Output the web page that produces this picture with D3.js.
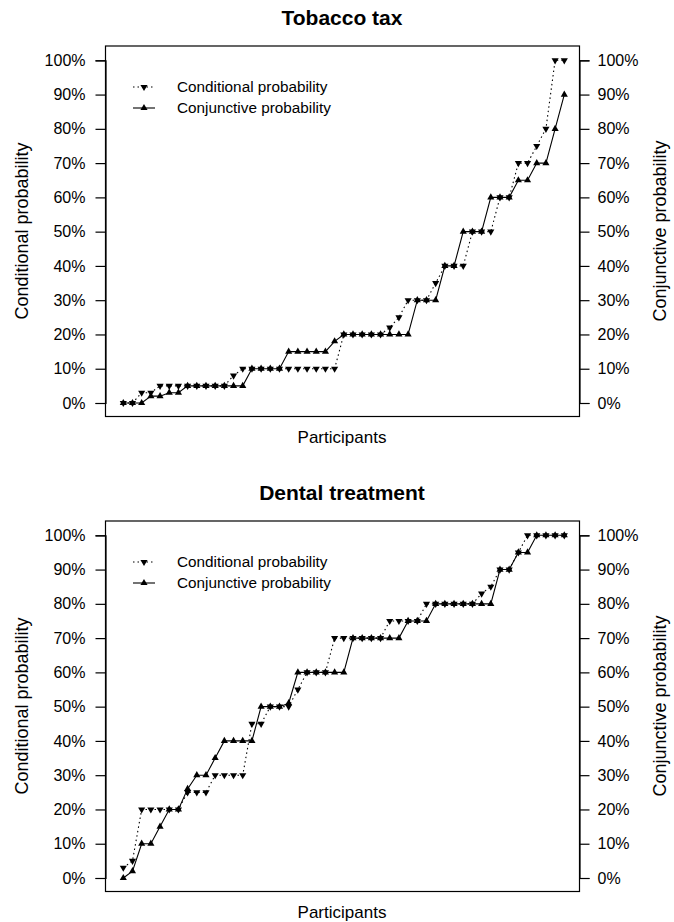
<!DOCTYPE html>
<html>
<head>
<meta charset="utf-8">
<script src="https://cdn.jsdelivr.net/npm/d3@7"></script>
<style>
body { margin: 0; background: #fff; }
text { font-family: "Liberation Sans", Arial, sans-serif; fill: #000; }
</style>
</head>
<body>
<svg id="myGraph" width="674" height="922"></svg>
<script>
// グラフのデータ（参加者ごとの確率 %）
var tobaccoConditional = [0,0,3,3,5,5,5,5,5,5,5,5,8,10,10,10,10,10,10,10,10,10,10,10,20,20,20,20,20,22,25,30,30,30,35,40,40,40,50,50,50,60,60,70,70,75,80,100,100];
var tobaccoConjunctive = [0,0,0,2,2,3,3,5,5,5,5,5,5,5,10,10,10,10,15,15,15,15,15,18,20,20,20,20,20,20,20,20,30,30,30,40,40,50,50,50,60,60,60,65,65,70,70,80,90];
var dentalConditional = [3,5,20,20,20,20,20,25,25,25,30,30,30,30,45,45,50,50,50,55,60,60,60,70,70,70,70,70,70,75,75,75,75,80,80,80,80,80,80,83,85,90,90,95,100,100,100,100,100];
var dentalConjunctive = [0,2,10,10,15,20,20,26,30,30,35,40,40,40,40,50,50,50,51,60,60,60,60,60,60,70,70,70,70,70,70,75,75,75,80,80,80,80,80,80,80,90,90,95,95,100,100,100,100];
var yTicks = [0,10,20,30,40,50,60,70,80,90,100];
var legendLabels = ["Conditional probability", "Conjunctive probability"];

var svg = d3.select("#myGraph");

// パネルの配置（上: タバコ税、下: 歯科治療）
var panels = [
	{ title: "Tobacco tax", cond: tobaccoConditional, conj: tobaccoConjunctive, top: 0 },
	{ title: "Dental treatment", cond: dentalConditional, conj: dentalConjunctive, top: 475 }
];

var boxLeft = 105.5, boxRight = 579.5;

panels.forEach(function(p){
	var g = svg.append("g").attr("transform", "translate(0," + p.top + ")");
	var n = p.cond.length;
	// X軸は参加者の順番
	var x = d3.scaleLinear().domain([0, n - 1]).range([123.3, 564.3]);
	var y = d3.scaleLinear().domain([0, 100]).range([403, 60.3]);

	// 枠
	g.append("rect")
		.attr("x", boxLeft).attr("y", 46)
		.attr("width", boxRight - boxLeft).attr("height", 416.5 - 46)
		.attr("fill", "none").attr("stroke", "#000").attr("stroke-width", 1.2);

	// 左右の目盛り
	var fmt = function(d){ return d + "%"; };
	var left = g.append("g")
		.attr("transform", "translate(" + boxLeft + ",0)")
		.call(d3.axisLeft(y).tickValues(yTicks).tickFormat(fmt).tickSize(10).tickPadding(10));
	var right = g.append("g")
		.attr("transform", "translate(" + boxRight + ",0)")
		.call(d3.axisRight(y).tickValues(yTicks).tickFormat(fmt).tickSize(10).tickPadding(8));
	[left, right].forEach(function(a){
		a.select(".domain").attr("stroke", "#000").attr("stroke-width", 1.2);
		a.selectAll(".tick line").attr("stroke", "#000").attr("stroke-width", 1.2);
		a.selectAll(".tick text").attr("font-size", "16px").attr("fill", "#000")
			.style("font-family", "Liberation Sans, Arial, sans-serif");
	});

	// タイトルと軸ラベル
	g.append("text").attr("x", 342).attr("y", 25).attr("text-anchor", "middle")
		.attr("font-size", "21px").attr("font-weight", "bold").text(p.title);
	g.append("text").attr("x", 342).attr("y", 443).attr("text-anchor", "middle")
		.attr("font-size", "17px").text("Participants");
	g.append("text").attr("transform", "translate(28,231) rotate(-90)")
		.attr("text-anchor", "middle").attr("font-size", "18px").text("Conditional probability");
	g.append("text").attr("transform", "translate(666,231) rotate(-90)")
		.attr("text-anchor", "middle").attr("font-size", "18px").text("Conjunctive probability");

	var line = d3.line()
		.x(function(d, i){ return x(i); })
		.y(function(d){ return y(d); });

	var tri = d3.symbol().type(d3.symbolTriangle).size(22);

	// 条件付き確率（点線 + 下向き三角）
	g.append("path").datum(p.cond).attr("d", line)
		.attr("fill", "none").attr("stroke", "#000").attr("stroke-width", 1.1)
		.attr("stroke-dasharray", "1.5,3");
	g.selectAll(".cond").data(p.cond).enter().append("path")
		.attr("class", "cond")
		.attr("d", tri)
		.attr("transform", function(d, i){ return "translate(" + x(i) + "," + y(d) + ") rotate(180)"; })
		.attr("fill", "#000");

	// 連言確率（実線 + 上向き三角）
	g.append("path").datum(p.conj).attr("d", line)
		.attr("fill", "none").attr("stroke", "#000").attr("stroke-width", 1.1);
	g.selectAll(".conj").data(p.conj).enter().append("path")
		.attr("class", "conj")
		.attr("d", tri)
		.attr("transform", function(d, i){ return "translate(" + x(i) + "," + y(d) + ")"; })
		.attr("fill", "#000");

	// 凡例
	var lg = g.append("g");
	legendLabels.forEach(function(lab, k){
		var ly = 87 + k * 21;
		lg.append("line").attr("x1", 133).attr("x2", 155).attr("y1", ly).attr("y2", ly)
			.attr("stroke", "#000").attr("stroke-width", 1.1)
			.attr("stroke-dasharray", k === 0 ? "1.5,3" : null);
		lg.append("path").attr("d", tri)
			.attr("transform", "translate(144," + ly + ")" + (k === 0 ? " rotate(180)" : ""))
			.attr("fill", "#000");
		lg.append("text").attr("x", 177).attr("y", ly + 5)
			.attr("font-size", "15.3px").text(lab);
	});
});
</script>
</body>
</html>
